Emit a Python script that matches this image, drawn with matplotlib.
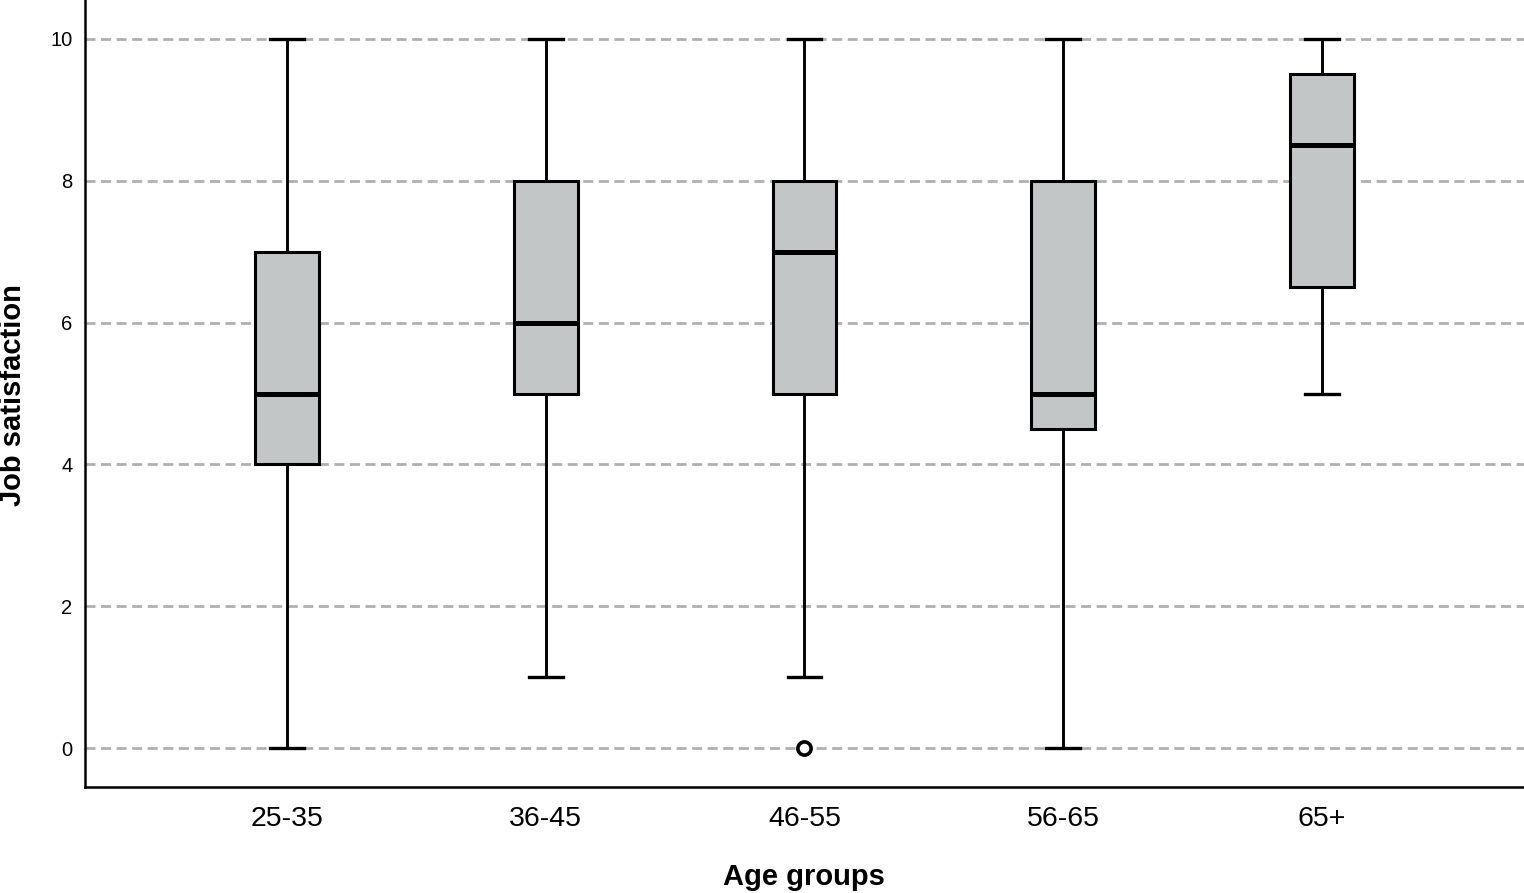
import matplotlib
matplotlib.use("Agg")
import matplotlib.pyplot as plt

groups = ["25-35", "36-45", "46-55", "56-65", "65+"]
whislo = [0, 1, 1, 0, 5]
q1 = [4, 5, 5, 4.5, 6.5]
med = [5, 6, 7, 5, 8.5]
q3 = [7, 8, 8, 8, 9.5]
whishi = [10, 10, 10, 10, 10]
fliers = [[], [], [0], [], []]
yticks = [0, 2, 4, 6, 8, 10]

plt.rcParams['font.family'] = ['Liberation Sans', 'DejaVu Sans']

fig = plt.figure(figsize=(15.24, 8.93), dpi=100)
ax = fig.add_axes([85/1524, 106/893, 1 - 85/1524, 1 - 106/893])

stats = []
for i, g in enumerate(groups):
    stats.append(dict(label=g, whislo=whislo[i], q1=q1[i], med=med[i],
                      q3=q3[i], whishi=whishi[i], fliers=fliers[i]))

ax.bxp(stats, positions=range(len(groups)), widths=0.247, patch_artist=True,
       showfliers=True, capwidths=0.13,
       boxprops=dict(facecolor='#c3c6c6', edgecolor='black', linewidth=2.2),
       medianprops=dict(color='black', linewidth=3.6),
       whiskerprops=dict(color='black', linewidth=2.1),
       capprops=dict(color='black', linewidth=2.4),
       flierprops=dict(marker='o', markerfacecolor='white', markeredgecolor='black',
                       markersize=9.5, markeredgewidth=2.6))

ax.set_xlim(-0.78, 4.78)
ax.set_ylim(-0.55, 10.55)
ax.set_yticks(yticks)
ax.set_yticklabels([str(t) for t in yticks], fontsize=14.5)
ax.tick_params(axis='x', labelsize=20.5, length=0, pad=14)
ax.tick_params(axis='y', length=0, pad=9)
ax.yaxis.grid(True, linestyle=(0, (3.6, 2.0)), color='#b0b0b0', linewidth=2.0)
ax.set_axisbelow(True)
for s in ['top', 'right']:
    ax.spines[s].set_visible(False)
for s in ['left', 'bottom']:
    ax.spines[s].set_linewidth(1.8)

fig.text(13/1524, 1 - 395/893, "Job satisfaction", fontsize=21, fontweight='bold',
         rotation=90, ha='center', va='center')
fig.text(804/1524, 1 - 877/893, "Age groups", fontsize=21, fontweight='bold',
         ha='center', va='center')

fig.savefig("out.png", dpi=100)
